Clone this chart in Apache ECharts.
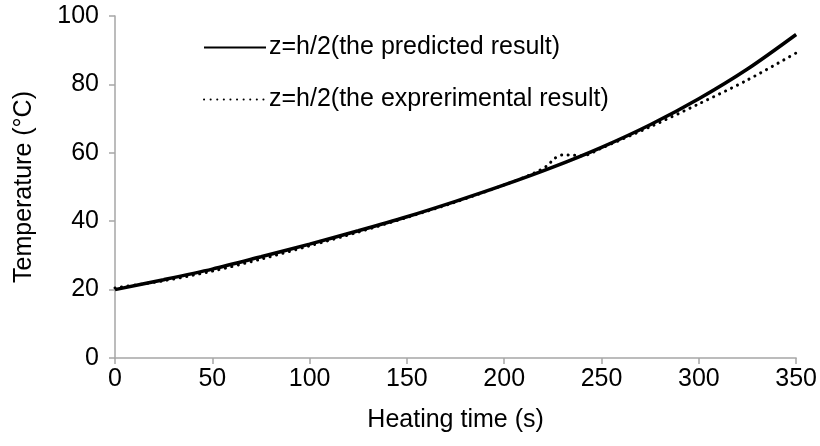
<!DOCTYPE html>
<html><head><meta charset="utf-8">
<script src="https://cdn.jsdelivr.net/npm/echarts@6/dist/echarts.min.js"></script>
<style>html,body{margin:0;padding:0;background:#fff}#c{width:820px;height:446px}</style>
</head><body><div id="c"></div>
<script>
const predTime = [0,25,50,75,100,125,150,175,200,225,250,275,300,325,350];
const predTemp = [20,22.9,26,29.6,33.3,37.2,41.3,45.8,50.6,55.8,61.6,68.2,75.8,84.5,94.6];
const expTime = [0,25,50,75,100,125,150,175,200,215,222,226,230,235,240,250,275,300,325,350];
const expTemp = [20.5,22.6,25.4,28.9,32.8,36.8,41.1,45.6,50.6,54,56.2,58.4,59.4,59.3,59.1,61.4,67.6,74.3,81.3,89.2];
const xTicks = [0,50,100,150,200,250,300,350];
const yTicks = [0,20,40,60,80,100];
const names = ['z=h/2(the predicted result)','z=h/2(the exprerimental result)'];

const font = 'Liberation Sans, Arial, sans-serif';
const fs = 25;
const chart = echarts.init(document.getElementById('c'));
chart.setOption({
  animation:false,
  backgroundColor:'#fff',
  grid:{left:115,right:23,top:16,bottom:88},
  legend:{
    orient:'vertical', left:198, top:30, itemGap:27, itemWidth:62, itemHeight:14,
    itemStyle:{opacity:0},
    textStyle:{fontFamily:font,fontSize:fs,color:'#000',padding:[0,0,0,-2]},
    data:names
  },
  xAxis:{
    type:'value', min:0, max:350, interval:50,
    name:'Heating time (s)', nameLocation:'middle', nameGap:50,
    nameTextStyle:{fontFamily:font,fontSize:fs,color:'#000'},
    axisLine:{lineStyle:{color:'#a6a6a6',width:1.5}},
    axisTick:{show:true,inside:false,length:6,lineStyle:{color:'#a6a6a6',width:1.5}},
    axisLabel:{fontFamily:font,fontSize:fs,color:'#000',margin:9},
    splitLine:{show:false}
  },
  yAxis:{
    type:'value', min:0, max:100, interval:20,
    name:'Temperature (°C)', nameLocation:'middle', nameGap:78,
    nameTextStyle:{fontFamily:font,fontSize:fs,color:'#000'},
    axisLine:{show:true,lineStyle:{color:'#a6a6a6',width:1.5}},
    axisTick:{show:true,inside:false,length:6,lineStyle:{color:'#a6a6a6',width:1.5}},
    axisLabel:{fontFamily:font,fontSize:fs,color:'#000',margin:16},
    splitLine:{show:false}
  },
  series:[
    {name:names[0],type:'line',smooth:0.3,symbol:'none',
     data:predTime.map((t,i)=>[t,predTemp[i]]),
     lineStyle:{color:'#000',width:3.5,type:'solid'},itemStyle:{color:'#000'},z:3},
    {name:names[1],type:'line',smooth:0.3,symbol:'none',
     data:expTime.map((t,i)=>[t,expTemp[i]]),
     lineStyle:{color:'#000',width:3,type:[0.1,6.5],cap:'round'},itemStyle:{color:'#000'},z:2}
  ]
});
</script></body></html>
